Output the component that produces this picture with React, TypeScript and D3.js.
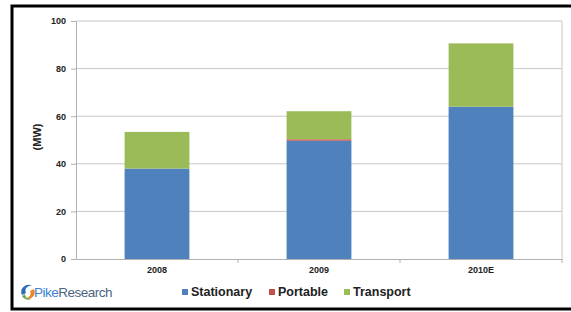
import React, { useRef, useEffect } from "react";
import * as d3 from "d3";

const years = ["2008", "2009", "2010E"];
const stationary = [38, 49.7, 64];
const portable = [0, 0.6, 0];
const transport = [15.4, 11.8, 26.6];
const seriesNames = ["Stationary", "Portable", "Transport"];
const seriesColors = ["#4F81BD", "#C0504D", "#9BBB59"];
const yTicks = [0, 20, 40, 60, 80, 100];

const App = () => {
  const svgRef = useRef<SVGSVGElement>(null);

  useEffect(() => {
    const svg = d3.select(svgRef.current);
    svg.selectAll("*").remove();

    const margin = { top: 21, left: 76, right: 9, bottom: 53 };
    const W = 571;
    const H = 312;
    const font = "Arial, 'Liberation Sans', sans-serif";

    const rows = years.map((y, i) => ({
      year: y,
      Stationary: stationary[i],
      Portable: portable[i],
      Transport: transport[i],
    }));
    const stack = d3.stack<any>().keys(seriesNames)(rows);

    const x = d3
      .scaleBand()
      .domain(years)
      .range([margin.left, W - margin.right])
      .paddingInner(0.6)
      .paddingOuter(0.3);
    const y = d3
      .scaleLinear()
      .domain([0, 100])
      .range([H - margin.bottom, margin.top]);

    // outer frame
    svg
      .append("rect")
      .attr("x", 12)
      .attr("y", 6)
      .attr("width", 570)
      .attr("height", 303)
      .attr("fill", "white")
      .attr("stroke", "#000")
      .attr("stroke-width", 3);

    // gridlines
    svg
      .append("g")
      .selectAll("line")
      .data(yTicks.slice(1))
      .enter()
      .append("line")
      .attr("x1", margin.left)
      .attr("x2", W - margin.right)
      .attr("y1", (d) => y(d))
      .attr("y2", (d) => y(d))
      .attr("stroke", "#c8c8c8");

    // plot right border
    svg
      .append("line")
      .attr("x1", W - margin.right)
      .attr("x2", W - margin.right)
      .attr("y1", y(100))
      .attr("y2", y(0))
      .attr("stroke", "#c8c8c8");

    // bars
    stack.forEach((s, si) => {
      svg
        .append("g")
        .selectAll("rect")
        .data(s)
        .enter()
        .append("rect")
        .attr("x", (d: any) => x(d.data.year)!)
        .attr("width", x.bandwidth())
        .attr("y", (d) => y(d[1]))
        .attr("height", (d) => y(d[0]) - y(d[1]))
        .attr("fill", seriesColors[si]);
    });

    // y axis
    const yAxis = svg
      .append("g")
      .attr("transform", `translate(${margin.left},0)`)
      .call(d3.axisLeft(y).tickValues(yTicks).tickSize(5).tickPadding(5));
    yAxis.select(".domain").attr("stroke", "#b0b0b0");
    yAxis.selectAll(".tick line").attr("stroke", "#b0b0b0");
    yAxis
      .selectAll("text")
      .attr("fill", "#222")
      .style("font", `bold 9px ${font}`);

    // x axis
    const xAxis = svg
      .append("g")
      .attr("transform", `translate(0,${y(0)})`)
      .call(d3.axisBottom(x).tickSize(0).tickPadding(8));
    xAxis.select(".domain").attr("stroke", "#b0b0b0");
    xAxis
      .selectAll("text")
      .attr("fill", "#222")
      .style("font", `bold 9px ${font}`);
    // category separators
    xAxis
      .selectAll("line.sep")
      .data(years)
      .enter()
      .append("line")
      .attr("class", "sep")
      .attr("x1", (d) => x(d)! + x.bandwidth() + (x.step() - x.bandwidth()) / 2)
      .attr("x2", (d) => x(d)! + x.bandwidth() + (x.step() - x.bandwidth()) / 2)
      .attr("y1", 0)
      .attr("y2", 4)
      .attr("stroke", "#b0b0b0");

    // y label
    svg
      .append("text")
      .attr("transform", `translate(38,137) rotate(-90)`)
      .attr("text-anchor", "middle")
      .attr("dominant-baseline", "middle")
      .attr("fill", "#222")
      .style("font", `bold 11px ${font}`)
      .text("(MW)");

    // legend
    const legendX = [182, 269, 344];
    const legend = svg
      .append("g")
      .selectAll("g")
      .data(seriesNames)
      .enter()
      .append("g")
      .attr("transform", (d, i) => `translate(${legendX[i]},292)`);
    legend
      .append("rect")
      .attr("x", 0)
      .attr("y", -3)
      .attr("width", 6)
      .attr("height", 6)
      .attr("fill", (d, i) => seriesColors[i]);
    legend
      .append("text")
      .attr("x", 9)
      .attr("y", 0.5)
      .attr("dominant-baseline", "middle")
      .attr("fill", "#222")
      .style("font", `bold 12.5px ${font}`)
      .text((d) => d);

    // logo
    const logo = svg.append("g").attr("transform", "translate(28,292)");
    logo
      .append("path")
      .attr("d", "M-6,3 A7,7 0 0 1 4,-6 A5,5 0 0 0 -2,1 Z")
      .attr("fill", "#2d6db5");
    logo
      .append("path")
      .attr("d", "M6,-3 A7,7 0 0 1 -4,6 A5,5 0 0 0 2,-1 Z")
      .attr("fill", "#e58a2b");
    logo
      .append("path")
      .attr("d", "M-6,4 A7,7 0 0 0 3,7 A5,5 0 0 1 -3,2 Z")
      .attr("fill", "#6aa84f");
    const lt = svg
      .append("text")
      .attr("x", 34)
      .attr("y", 293)
      .attr("dominant-baseline", "middle")
      .style("font", `13.5px ${font}`)
      .attr("letter-spacing", "-0.5");
    lt.append("tspan").attr("fill", "#3c82d8").text("Pike");
    lt.append("tspan").attr("fill", "#4d6480").text("Research");
  }, []);

  return (
    <svg
      ref={svgRef}
      width={571}
      height={312}
      style={{ position: "absolute", left: 0, top: 0, background: "#fff" }}
    ></svg>
  );
};

export default App;
